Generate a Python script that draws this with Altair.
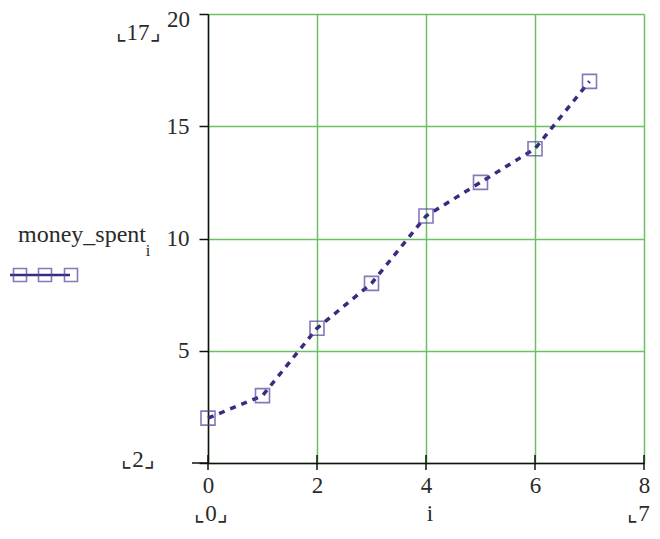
import altair as alt
import pandas as pd

# data
i_vals = [0, 1, 2, 3, 4, 5, 6, 7]
money_spent = [2, 3, 6, 8, 11, 12.5, 14, 17]
x_ticks = [0, 2, 4, 6, 8]
y_ticks = [0, 5, 10, 15, 20]

df = pd.DataFrame({"i": i_vals, "money_spent": money_spent})
ticks_df = pd.DataFrame({"t": x_ticks})
one = pd.DataFrame({"a": [0]})

FONT = "Liberation Serif"
FS = 23
TXT = "#2a2a2a"
LINE = "#3b2a80"
MARK = "#54409c"
GRID = "#6cbf62"

xs = alt.Scale(domain=[0, 8], nice=False, zero=False)
ys = alt.Scale(domain=[0, 20], nice=False, zero=False)

xaxis = alt.Axis(values=x_ticks, title=None, grid=True, gridColor=GRID, gridWidth=1.5,
                 ticks=False, labelPadding=11, labelFont=FONT, labelFontSize=FS,
                 labelColor=TXT, domainColor="#111", domainWidth=1.5, labelFlush=False,
                 format="d")
yaxis = alt.Axis(values=y_ticks, title=None, grid=True, gridColor=GRID, gridWidth=1.5,
                 tickSize=9, tickColor="#111", tickWidth=1.5, labelPadding=10,
                 labelFont=FONT, labelFontSize=FS, labelColor=TXT,
                 domainColor="#111", domainWidth=1.5, labelFlush=False,
                 labelExpr="(datum.value == 0 || datum.value == 20) ? '' : datum.label",
                 format="d")

base = alt.Chart(df)
line = base.mark_line(color=LINE, strokeWidth=3.5, strokeDash=[6, 6]).encode(
    x=alt.X("i:Q", scale=xs, axis=xaxis),
    y=alt.Y("money_spent:Q", scale=ys, axis=yaxis),
)
pts = base.mark_point(shape="square", filled=False, size=196, color=MARK, strokeWidth=1.6).encode(
    x=alt.X("i:Q", scale=xs),
    y=alt.Y("money_spent:Q", scale=ys),
)
xt = alt.Chart(ticks_df).mark_rule(color="#111", strokeWidth=1.5).encode(
    x=alt.X("t:Q", scale=xs), y=alt.value(441), y2=alt.value(456)
)
x_ext = alt.Chart(one).mark_rule(color="#111", strokeWidth=1.5).encode(
    x=alt.value(-16), x2=alt.value(0), y=alt.value(449)
)

def txt(s, x, y, size=FS, baseline="middle", align="center"):
    return alt.Chart(one).mark_text(text=s, font=FONT, fontSize=size, color=TXT,
                                    align=align, baseline=baseline).encode(
        x=alt.value(x), y=alt.value(y))

texts = [
    txt("20", -18, 6, align="right"),
    txt("⌞17⌟", -70, 19),
    txt("⌞2⌟", -70, 446),
    txt("⌞0⌟", 3, 507, baseline="alphabetic"),
    txt("i", 222, 507, baseline="alphabetic"),
    txt("⌞7⌟", 436, 507, baseline="alphabetic"),
    txt("money_spent", -126, 221, size=24),
    txt("i", -60, 237, size=16),
]

leg_line = alt.Chart(one).mark_rule(color=LINE, strokeWidth=2.5).encode(
    x=alt.value(-198), x2=alt.value(-138), y=alt.value(261))
leg_pts = [
    alt.Chart(one).mark_point(shape="square", filled=False, size=169, color=MARK,
                              strokeWidth=1.6).encode(x=alt.value(px), y=alt.value(261))
    for px in (-188, -163, -137)
]

chart = alt.layer(line, pts, xt, x_ext, *texts, leg_line, *leg_pts).properties(
    width=436, height=449,
    padding={"left": 200, "top": 6, "right": 7, "bottom": 64},
    autosize=alt.AutoSizeParams(type="none"),
    background="white",
).configure_view(strokeWidth=0)

chart.save("out.html", embed_options={"renderer": "svg", "actions": False})
